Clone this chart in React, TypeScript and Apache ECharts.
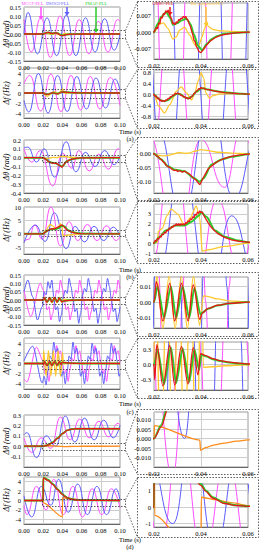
import React, { useEffect, useRef } from "react";
import * as echarts from "echarts";

type Pt = [number, number];

// ---------- legend / tick labels ----------
const legendNames = ["MCCF-PLL", "DSOGI-PLL", "PMAF-PLL", "GDSC-PLL", "The proposed PLL"];
const panelTags = ["(a)", "(b)", "(c)", "(d)"];
const xTicksLeft = [0, 0.02, 0.04, 0.06, 0.08, 0.1];
const xTicksRight = [0.02, 0.04, 0.06];

// ---------- panel (a) ----------
const aThMccf: Pt[] = [[0, 0.08], [0.0075, -0.1], [0.0175, 0.09], [0.0275, -0.13], [0.0375, 0.1], [0.0475, -0.12], [0.0575, 0.08], [0.0675, -0.11], [0.0775, 0.07], [0.0875, -0.1], [0.0975, 0.08], [0.1, 0.07]];
const aThDsogi: Pt[] = [[0, 0.0], [0.004, 0.12], [0.014, -0.11], [0.024, 0.09], [0.034, -0.12], [0.044, 0.105], [0.054, -0.12], [0.064, 0.09], [0.074, -0.1], [0.084, 0.085], [0.094, -0.09], [0.1, 0.0]];
const aThPmaf: Pt[] = [[0, 0], [0.02, 0], [0.0215, 0.0035], [0.0231, 0.0066], [0.0252, 0.0086], [0.0268, 0.0062], [0.0281, 0.0032], [0.0298, 0.0038], [0.0316, 0.005], [0.0338, 0.0058], [0.0355, 0.0035], [0.037, -0.001], [0.0387, -0.0058], [0.0405, -0.0078], [0.0425, -0.005], [0.0444, -0.003], [0.047, -0.0016], [0.05, -0.0007], [0.055, -0.0002], [0.06, 0], [0.1, 0]];
const aThGdsc: Pt[] = [[0, 0], [0.02, 0], [0.021, 0.002], [0.0215, 0.0015], [0.022, 0.004], [0.0225, 0.0035], [0.023, 0.0065], [0.0235, 0.006], [0.024, 0.008], [0.0245, 0.0075], [0.025, 0.0092], [0.0255, 0.0085], [0.026, 0.0095], [0.0265, 0.008], [0.027, 0.0065], [0.0275, 0.0058], [0.028, 0.0035], [0.0285, 0.004], [0.029, 0.0032], [0.0295, 0.0045], [0.03, 0.004], [0.0305, 0.0055], [0.031, 0.005], [0.0315, 0.006], [0.032, 0.0058], [0.0325, 0.0068], [0.033, 0.0062], [0.0335, 0.0068], [0.034, 0.0055], [0.0345, 0.005], [0.035, 0.0035], [0.0355, 0.0025], [0.036, 0.0005], [0.0365, -0.001], [0.037, -0.0035], [0.0375, -0.004], [0.038, -0.0062], [0.0385, -0.0068], [0.039, -0.0082], [0.0395, -0.0085], [0.04, -0.0088], [0.041, -0.0075], [0.042, -0.006], [0.044, -0.0038], [0.046, -0.0024], [0.048, -0.0015], [0.05, -0.001], [0.053, -0.0005], [0.056, -0.0002], [0.06, 0], [0.1, 0]];
const aThProp: Pt[] = [[0, 0], [0.02, 0], [0.0225, 0.0035], [0.024, 0.004], [0.026, 0.0015], [0.028, -0.003], [0.0295, -0.002], [0.031, 0.001], [0.033, 0.0022], [0.035, -0.001], [0.0375, -0.0055], [0.039, -0.0058], [0.0405, -0.002], [0.0415, 0.0015], [0.0425, 0.0045], [0.043, 0.0025], [0.045, 0.0012], [0.048, 0.0006], [0.053, 0.0003], [0.06, 0], [0.1, 0]];

const aFMccf: Pt[] = [[0, 1.8], [0.006, 3.5], [0.0175, -3.6], [0.028, 3.8], [0.0385, -3.7], [0.049, 3.5], [0.059, -3.4], [0.069, 3.3], [0.079, -3.2], [0.09, 3.1], [0.1, -2.5]];
const aFDsogi: Pt[] = [[0, -1.5], [0.005, -3.8], [0.015, 3.9], [0.025, -4.0], [0.035, 3.5], [0.045, -3.7], [0.055, 3.3], [0.065, -3.2], [0.075, 3.0], [0.085, -3.0], [0.095, 2.8], [0.1, 0.5]];
const aFPmaf: Pt[] = [[0, 0], [0.02, 0], [0.0215, -0.12], [0.023, -0.22], [0.0245, -0.25], [0.026, -0.2], [0.028, -0.06], [0.03, 0.04], [0.0315, 0.0], [0.033, -0.1], [0.0345, -0.15], [0.036, -0.08], [0.038, 0.1], [0.04, 0.22], [0.0415, 0.22], [0.043, 0.18], [0.046, 0.13], [0.05, 0.08], [0.055, 0.04], [0.06, 0.02], [0.1, 0]];
const aFGdsc: Pt[] = [[0, 0], [0.02, 0], [0.0205, -0.08], [0.021, -0.05], [0.0215, -0.16], [0.022, -0.13], [0.0225, -0.24], [0.023, -0.2], [0.0235, -0.26], [0.024, -0.22], [0.0245, -0.26], [0.025, -0.2], [0.0255, -0.22], [0.026, -0.14], [0.0265, -0.15], [0.027, -0.08], [0.0275, -0.09], [0.028, -0.02], [0.0285, -0.03], [0.029, 0.04], [0.0295, 0.02], [0.03, 0.06], [0.0305, 0.02], [0.031, 0.02], [0.0315, -0.04], [0.032, -0.03], [0.0325, -0.09], [0.033, -0.08], [0.0335, -0.13], [0.034, -0.11], [0.0345, -0.16], [0.035, -0.13], [0.0355, -0.14], [0.036, -0.06], [0.0365, -0.05], [0.037, 0.04], [0.0375, 0.05], [0.038, 0.13], [0.0385, 0.14], [0.039, 0.22], [0.0395, 0.2], [0.04, 0.26], [0.0405, 0.22], [0.041, 0.24], [0.042, 0.19], [0.043, 0.18], [0.045, 0.14], [0.047, 0.11], [0.05, 0.07], [0.053, 0.05], [0.056, 0.03], [0.06, 0.015], [0.1, 0]];
const aFProp: Pt[] = [[0, 0], [0.02, 0], [0.022, -0.43], [0.0245, -0.68], [0.0267, -0.37], [0.0295, 0.12], [0.0316, 0.28], [0.0338, 0.06], [0.036, -0.2], [0.0375, 0.1], [0.0388, 0.5], [0.04, 0.8], [0.0412, 0.6], [0.042, 0.06], [0.0437, -0.14], [0.045, -0.04], [0.048, 0.02], [0.053, 0.03], [0.06, 0.02], [0.1, 0]];

// ---------- panel (b) ----------
const bThMccf: Pt[] = [[0, 0.1], [0.008, -0.05], [0.017, 0.08], [0.03, -0.32], [0.04, 0.05], [0.05, -0.12], [0.057, 0.08], [0.068, -0.15], [0.078, 0.04], [0.088, -0.13], [0.098, 0.1], [0.1, 0.09]];
const bThDsogi: Pt[] = [[0, 0.11], [0.004, 0.12], [0.013, -0.05], [0.021, 0.1], [0.032, -0.22], [0.044, 0.18], [0.054, -0.16], [0.064, 0.06], [0.074, -0.1], [0.084, 0.08], [0.094, -0.08], [0.1, 0.02]];
const bThPmaf: Pt[] = [[0, 0], [0.02, 0], [0.023, -0.02], [0.026, -0.045], [0.029, -0.057], [0.033, -0.063], [0.037, -0.087], [0.0395, -0.1], [0.041, -0.088], [0.0445, -0.039], [0.049, -0.02], [0.053, -0.011], [0.06, -0.002], [0.1, 0]];
const bThGdsc: Pt[] = [[0, 0], [0.02, 0], [0.021, -0.008], [0.022, -0.012], [0.0225, -0.018], [0.023, -0.02], [0.024, -0.03], [0.0245, -0.032], [0.025, -0.04], [0.026, -0.047], [0.027, -0.05], [0.028, -0.058], [0.029, -0.06], [0.0295, -0.058], [0.03, -0.064], [0.031, -0.06], [0.032, -0.066], [0.033, -0.062], [0.034, -0.068], [0.035, -0.072], [0.036, -0.08], [0.037, -0.088], [0.038, -0.095], [0.0385, -0.1], [0.039, -0.106], [0.0395, -0.11], [0.04, -0.103], [0.041, -0.085], [0.042, -0.07], [0.043, -0.055], [0.045, -0.04], [0.047, -0.028], [0.05, -0.017], [0.053, -0.01], [0.056, -0.005], [0.06, -0.002], [0.1, 0]];
const bThProp: Pt[] = [[0, 0], [0.02, 0], [0.022, -0.006], [0.024, -0.008], [0.026, -0.006], [0.028, -0.002], [0.0305, 0.004], [0.033, 0.001], [0.035, 0.002], [0.037, 0.008], [0.04, 0.014], [0.043, 0.011], [0.047, 0.005], [0.053, 0.002], [0.06, 0], [0.1, 0]];

const bFMccf: Pt[] = [[0, -2.8], [0.005, -2.0], [0.011, 3.3], [0.019, -2.0], [0.028, 10], [0.038, -4.5], [0.047, 4.5], [0.056, -2.5], [0.066, 3.5], [0.076, -2.5], [0.086, 3], [0.096, -2.5], [0.1, -1]];
const bFDsogi: Pt[] = [[0, -3.3], [0.012, 3.3], [0.022, -2.8], [0.0316, 7.8], [0.044, -5.5], [0.053, 2.8], [0.063, -3], [0.073, 2.8], [0.083, -2.5], [0.093, 2.5], [0.1, -1]];
const bFPmaf: Pt[] = [[0, 0], [0.02, 0], [0.0224, 0.67], [0.025, 1.3], [0.029, 1.8], [0.033, 1.8], [0.036, 2.2], [0.039, 2.8], [0.0402, 3.15], [0.0423, 2.7], [0.046, 1.3], [0.05, 0.67], [0.056, 0.27], [0.06, 0.1], [0.1, 0]];
const bFGdsc: Pt[] = [[0, 0], [0.02, 0], [0.0205, 0.3], [0.021, 0.2], [0.0215, 0.5], [0.022, 0.4], [0.0225, 0.7], [0.023, 0.6], [0.0235, 0.95], [0.024, 0.85], [0.0245, 1.15], [0.025, 1.05], [0.0255, 1.35], [0.026, 1.25], [0.0265, 1.55], [0.027, 1.45], [0.0275, 1.7], [0.028, 1.6], [0.0285, 1.85], [0.029, 1.75], [0.0295, 2.0], [0.03, 1.8], [0.0305, 2.0], [0.031, 1.8], [0.0315, 2.0], [0.032, 1.85], [0.0325, 2.0], [0.033, 1.85], [0.0335, 2.1], [0.034, 2.0], [0.0345, 2.3], [0.035, 2.2], [0.0355, 2.5], [0.036, 2.4], [0.0365, 2.7], [0.037, 2.6], [0.0375, 2.95], [0.038, 2.85], [0.0385, 3.2], [0.039, 3.05], [0.0395, 3.3], [0.04, 3.1], [0.0405, 3.2], [0.041, 2.9], [0.042, 2.5], [0.043, 2.1], [0.044, 1.75], [0.045, 1.45], [0.047, 1.0], [0.05, 0.6], [0.053, 0.35], [0.056, 0.2], [0.06, 0.1], [0.1, 0]];
const bFProp: Pt[] = [[0, 0], [0.02, 0], [0.0215, 0.1], [0.0218, 1.2], [0.0235, 1.5], [0.0255, 2.8], [0.0273, 3.5], [0.03, 3.0], [0.033, 1.8], [0.0355, 2.6], [0.038, 3.8], [0.0395, 2.5], [0.0405, -0.8], [0.043, -0.67], [0.05, -0.33], [0.06, 0], [0.1, 0]];

// ---------- panel (c) ----------
const cThMccf: Pt[] = [[0, 0.06], [0.007, -0.1], [0.017, 0.1], [0.02, 0.06], [0.022, 0.02], [0.024, -0.06], [0.026, -0.04], [0.028, -0.12], [0.03, -0.08], [0.032, 0.0], [0.034, 0.06], [0.036, 0.04], [0.038, 0.12], [0.04, 0.07], [0.042, 0.0], [0.044, -0.06], [0.046, -0.04], [0.048, -0.12], [0.05, -0.07], [0.052, 0.01], [0.054, 0.06], [0.056, 0.04], [0.058, 0.12], [0.06, 0.07], [0.062, 0.0], [0.064, -0.06], [0.066, -0.04], [0.068, -0.12], [0.07, -0.07], [0.072, 0.01], [0.074, 0.06], [0.076, 0.04], [0.078, 0.12], [0.08, 0.07], [0.082, 0.0], [0.084, -0.06], [0.086, -0.04], [0.088, -0.12], [0.09, -0.07], [0.092, 0.01], [0.094, 0.06], [0.096, 0.04], [0.098, 0.12], [0.1, 0.07]];
const cThDsogi: Pt[] = [[0, 0.05], [0.004, 0.12], [0.009, 0.02], [0.014, -0.12], [0.019, -0.04], [0.021, 0.05], [0.023, 0.03], [0.025, 0.11], [0.027, 0.07], [0.029, 0.12], [0.031, 0.02], [0.033, -0.06], [0.035, -0.04], [0.037, -0.13], [0.039, -0.09], [0.041, 0.02], [0.043, 0.06], [0.045, 0.04], [0.047, 0.13], [0.049, 0.08], [0.051, 0.01], [0.053, -0.07], [0.055, -0.05], [0.057, -0.14], [0.059, -0.08], [0.061, 0.03], [0.063, 0.07], [0.065, 0.05], [0.067, 0.13], [0.069, 0.08], [0.071, 0.0], [0.073, -0.07], [0.075, -0.05], [0.077, -0.14], [0.079, -0.08], [0.081, 0.03], [0.083, 0.07], [0.085, 0.05], [0.087, 0.13], [0.089, 0.08], [0.091, 0.0], [0.093, -0.07], [0.095, -0.05], [0.097, -0.13], [0.099, -0.08], [0.1, -0.04]];
const cThPmaf: Pt[] = [[0, 0], [0.02, 0], [0.0215, 0.01], [0.0243, -0.01], [0.0272, 0.01], [0.0294, -0.01], [0.0322, 0.01], [0.035, -0.01], [0.0372, 0.009], [0.0398, -0.008], [0.0405, -0.0068], [0.043, -0.0042], [0.047, -0.0022], [0.052, -0.0009], [0.06, 0], [0.1, 0]];
const cThGdsc: Pt[] = [[0, 0], [0.02, 0], [0.021, 0.013], [0.0238, -0.012], [0.0267, 0.012], [0.0288, -0.012], [0.0317, 0.012], [0.0345, -0.012], [0.0367, 0.011], [0.0395, -0.011], [0.0405, -0.007], [0.043, -0.004], [0.047, -0.002], [0.052, -0.0008], [0.06, 0], [0.1, 0]];
const cThProp: Pt[] = [[0, 0], [0.02, 0], [0.0212, 0.017], [0.0238, -0.017], [0.0264, 0.017], [0.029, -0.017], [0.0316, 0.017], [0.0342, -0.017], [0.0368, 0.017], [0.0394, -0.015], [0.041, 0.004], [0.043, 0.0035], [0.047, 0.002], [0.052, 0.0008], [0.06, 0], [0.1, 0]];

const cFMccf: Pt[] = [[0, -3], [0.003, -3.6], [0.013, 3.2], [0.02, 0.5], [0.022, -2.0], [0.024, -1.2], [0.026, -3.5], [0.028, -1.0], [0.03, 1.0], [0.032, 0.5], [0.034, 3.5], [0.036, 1.8], [0.038, 2.5], [0.04, 0.2], [0.042, -2.0], [0.044, -1.2], [0.046, -3.5], [0.048, -1.0], [0.05, 1.0], [0.052, 0.5], [0.054, 3.5], [0.056, 1.8], [0.058, 2.5], [0.06, 0.2], [0.062, -2.0], [0.064, -1.2], [0.066, -3.5], [0.068, -1.0], [0.07, 1.0], [0.072, 0.5], [0.074, 3.5], [0.076, 1.8], [0.078, 2.5], [0.08, 0.2], [0.082, -2.0], [0.084, -1.2], [0.086, -3.5], [0.088, -1.0], [0.09, 1.0], [0.092, 0.5], [0.094, 3.5], [0.096, 1.8], [0.098, 2.5], [0.1, 0.2]];
const cFDsogi: Pt[] = [[0, 0.5], [0.009, 3.4], [0.019, -3.8], [0.021, -2.5], [0.023, -4.2], [0.025, -1.5], [0.027, 1.5], [0.029, 0.8], [0.031, 4.2], [0.033, 2.2], [0.035, 3.0], [0.037, 0.5], [0.039, -2.5], [0.041, -1.5], [0.043, -4.0], [0.045, -1.5], [0.047, 1.5], [0.049, 0.8], [0.051, 4.2], [0.053, 2.0], [0.055, 3.0], [0.057, 0.5], [0.059, -2.5], [0.061, -1.5], [0.063, -4.0], [0.065, -1.5], [0.067, 1.5], [0.069, 0.8], [0.071, 4.0], [0.073, 2.0], [0.075, 3.0], [0.077, 0.5], [0.079, -2.5], [0.081, -1.5], [0.083, -4.0], [0.085, -1.5], [0.087, 1.5], [0.089, 0.8], [0.091, 4.0], [0.093, 2.0], [0.095, 3.0], [0.097, 0.5], [0.099, -2.5], [0.1, -2]];
const cFPmaf: Pt[] = [[0, 0], [0.02, 0], [0.0215, 0.3], [0.0243, -0.38], [0.0272, 0.34], [0.0294, -0.36], [0.0322, 0.32], [0.035, -0.34], [0.0372, 0.3], [0.0392, -0.1], [0.0402, 0.2], [0.042, 0.17], [0.045, 0.11], [0.048, 0.075], [0.052, 0.045], [0.056, 0.025], [0.06, 0.012], [0.1, 0]];
const cFGdsc: Pt[] = [[0, 0], [0.02, 0], [0.0203, -0.3], [0.0212, 0.4], [0.0238, -0.42], [0.0267, 0.38], [0.0288, -0.4], [0.0317, 0.36], [0.0345, -0.38], [0.0367, 0.34], [0.0387, -0.2], [0.0398, 0.22], [0.042, 0.18], [0.045, 0.12], [0.048, 0.08], [0.052, 0.05], [0.056, 0.03], [0.06, 0.015], [0.1, 0]];
const cFProp: Pt[] = [[0, 0], [0.02, 0], [0.0205, 2.5], [0.023, -2.5], [0.0255, 2.5], [0.028, -2.5], [0.0305, 2.5], [0.033, -2.5], [0.0355, 2.5], [0.038, -2.5], [0.0402, 2.2], [0.041, -0.05], [0.045, -0.04], [0.05, -0.02], [0.06, 0], [0.1, 0]];

// ---------- panel (d) ----------
const dThMccf: Pt[] = [[0, 0.08], [0.008, -0.06], [0.018, 0.08], [0.028, -0.02], [0.038, 0.28], [0.048, 0.06], [0.058, 0.26], [0.068, 0.08], [0.078, 0.24], [0.088, 0.09], [0.098, 0.22], [0.1, 0.2]];
const dThDsogi: Pt[] = [[0, 0.11], [0.003, 0.13], [0.013, -0.11], [0.023, 0.1], [0.033, 0.0], [0.043, 0.29], [0.053, 0.04], [0.063, 0.27], [0.073, 0.06], [0.083, 0.25], [0.093, 0.08], [0.1, 0.2]];
const dThPmaf: Pt[] = [[0, 0], [0.02, 0], [0.023, 0.007], [0.026, 0.018], [0.03, 0.038], [0.035, 0.078], [0.04, 0.122], [0.045, 0.153], [0.05, 0.165], [0.055, 0.168], [0.1, 0.168]];
const dThGdsc: Pt[] = [[0, 0], [0.02, 0], [0.023, 0.006], [0.026, 0.016], [0.03, 0.035], [0.035, 0.075], [0.04, 0.12], [0.045, 0.152], [0.05, 0.165], [0.055, 0.168], [0.1, 0.168]];
const dThProp: Pt[] = [[0, 0], [0.02, 0], [0.0202, 0.0068], [0.0395, -0.0008], [0.0398, -0.0062], [0.042, -0.0048], [0.045, -0.0036], [0.05, -0.0024], [0.055, -0.0014], [0.06, -0.0007], [0.1, 0]];

const dFMccf: Pt[] = [[0, -1], [0.003, -3], [0.013, 3], [0.023, -2], [0.031, 4.5], [0.041, -3], [0.051, 3], [0.061, -3.5], [0.071, 2.5], [0.081, -3], [0.091, 2.5], [0.1, -1.5]];
const dFDsogi: Pt[] = [[0, 1], [0.008, -3.5], [0.018, 3], [0.028, -1], [0.036, 4.5], [0.046, -2.5], [0.056, 3.5], [0.066, -3], [0.076, 3], [0.086, -3], [0.096, 2.5], [0.1, 0]];
const dFPmaf: Pt[] = [[0, 0], [0.02, 0], [0.0201, 4.9], [0.025, 4.4], [0.03, 3.5], [0.035, 2.4], [0.04, 1.4], [0.042, 1.0], [0.045, 0.6], [0.05, 0.25], [0.055, 0.11], [0.06, 0.05], [0.1, 0]];
const dFGdsc: Pt[] = [[0, 0], [0.02, 0], [0.0201, 4.8], [0.025, 4.3], [0.03, 3.4], [0.035, 2.3], [0.04, 1.3], [0.042, 0.95], [0.045, 0.55], [0.05, 0.22], [0.055, 0.1], [0.06, 0.05], [0.1, 0]];
const dFProp: Pt[] = [[0, 0], [0.02, 0], [0.0201, 4.6], [0.0203, -0.5], [0.04, -3.5], [0.0401, 0.6], [0.046, 0.45], [0.053, 0.27], [0.06, 0.09], [0.1, 0.02]];

// ---------- styling ----------
const FONT = "Liberation Serif";
const COL = { mccf: "#ff4dff", dsogi: "#5b5bff", pmaf: "#2bcc2b", gdsc: "#e81818", prop: "#ffc92e", propD: "#ff8c1a" };

interface Plot {
  box: [number, number, number, number];
  left: boolean;
  yr: [number, number];
  yt: number[];
  yd: number;
  data: Pt[][]; // mccf, dsogi, prop, pmaf, gdsc
  propColor: string;
  smooth: number;
  redSmooth: number;
}

const L = 24, LW = 96, R = 154, RW = 94;

const plots: Plot[] = [
  // (a)
  { box: [L, 7, LW, 54], left: true, yr: [-0.15, 0.15], yt: [-0.15, -0.1, -0.05, 0, 0.05, 0.1, 0.15], yd: 2, data: [aThMccf, aThDsogi, aThProp, aThPmaf, aThGdsc], propColor: COL.prop, smooth: 0.5, redSmooth: 0 },
  { box: [R, 3, RW, 56], left: false, yr: [-0.0115, 0.0125], yt: [-0.007, 0, 0.007], yd: 3, data: [aThMccf, aThDsogi, aThProp, aThPmaf, aThGdsc], propColor: COL.prop, smooth: 0.5, redSmooth: 0 },
  { box: [L, 68, LW, 50], left: true, yr: [-5, 5], yt: [-4, -2, 0, 2, 4], yd: 0, data: [aFMccf, aFDsogi, aFProp, aFPmaf, aFGdsc], propColor: COL.prop, smooth: 0.5, redSmooth: 0 },
  { box: [R, 70, RW, 49], left: false, yr: [-0.9, 0.9], yt: [-0.8, -0.4, 0, 0.4, 0.8], yd: 1, data: [aFMccf, aFDsogi, aFProp, aFPmaf, aFGdsc], propColor: COL.prop, smooth: 0.5, redSmooth: 0 },
  // (b)
  { box: [L, 140, LW, 53], left: true, yr: [-0.4, 0.2], yt: [-0.4, -0.3, -0.2, -0.1, 0, 0.1, 0.2], yd: 1, data: [bThMccf, bThDsogi, bThProp, bThPmaf, bThGdsc], propColor: COL.prop, smooth: 0.5, redSmooth: 0 },
  { box: [R, 141, RW, 52], left: false, yr: [-0.14, 0.045], yt: [-0.1, -0.05, 0], yd: 2, data: [bThMccf, bThDsogi, bThProp, bThPmaf, bThGdsc], propColor: COL.prop, smooth: 0.5, redSmooth: 0 },
  { box: [L, 207, LW, 47], left: true, yr: [-7.5, 10], yt: [-5, 0, 5, 10], yd: 0, data: [bFMccf, bFDsogi, bFProp, bFPmaf, bFGdsc], propColor: COL.prop, smooth: 0.5, redSmooth: 0 },
  { box: [R, 204, RW, 49], left: false, yr: [-1, 4], yt: [-1, 0, 1, 2, 3], yd: 0, data: [bFMccf, bFDsogi, bFProp, bFPmaf, bFGdsc], propColor: COL.prop, smooth: 0.5, redSmooth: 0 },
  // (c)
  { box: [L, 275, LW, 50], left: true, yr: [-0.15, 0.15], yt: [-0.15, -0.1, -0.05, 0, 0.05, 0.1, 0.15], yd: 2, data: [cThMccf, cThDsogi, cThProp, cThPmaf, cThGdsc], propColor: COL.prop, smooth: 0.3, redSmooth: 0.35 },
  { box: [R, 277, RW, 51], left: false, yr: [-0.0165, 0.016], yt: [-0.01, 0, 0.01], yd: 2, data: [cThMccf, cThDsogi, cThProp, cThPmaf, cThGdsc], propColor: COL.prop, smooth: 0.3, redSmooth: 0.35 },
  { box: [L, 338, LW, 51], left: true, yr: [-5, 5], yt: [-4, -2, 0, 2, 4], yd: 0, data: [cFMccf, cFDsogi, cFProp, cFPmaf, cFGdsc], propColor: COL.prop, smooth: 0.3, redSmooth: 0.35 },
  { box: [R, 342, RW, 48], left: false, yr: [-0.5, 0.45], yt: [-0.3, 0, 0.3], yd: 1, data: [cFMccf, cFDsogi, cFProp, cFPmaf, cFGdsc], propColor: COL.prop, smooth: 0.3, redSmooth: 0.35 },
  // (d)
  { box: [L, 415, LW, 52], left: true, yr: [-0.2, 0.3], yt: [-0.1, 0, 0.1, 0.2, 0.3], yd: 1, data: [dThMccf, dThDsogi, dThProp, dThPmaf, dThGdsc], propColor: COL.propD, smooth: 0.5, redSmooth: 0.3 },
  { box: [R, 412, RW, 55], left: false, yr: [-0.015, 0.014], yt: [-0.01, -0.005, 0, 0.005, 0.01], yd: 3, data: [dThMccf, dThDsogi, dThProp, dThPmaf, dThGdsc], propColor: COL.propD, smooth: 0.5, redSmooth: 0.3 },
  { box: [L, 477, LW, 47], left: true, yr: [-5, 5], yt: [-4, -2, 0, 2, 4], yd: 0, data: [dFMccf, dFDsogi, dFProp, dFPmaf, dFGdsc], propColor: COL.propD, smooth: 0.5, redSmooth: 0.3 },
  { box: [R, 484, RW, 43], left: false, yr: [-1.2, 1.4], yt: [-1, 0, 1], yd: 0, data: [dFMccf, dFDsogi, dFProp, dFPmaf, dFGdsc], propColor: COL.propD, smooth: 0.5, redSmooth: 0.3 },
];

const frames: [number, number][] = [[1, 67], [69, 128], [137, 200], [201, 263], [272, 336], [338, 398], [409, 474], [477, 537]];
const zoomRects: [number, number][] = [[30, 38], [89, 98], [155, 162], [230, 236], [297, 304], [360, 369], [443, 450], [499, 506]];
const yNames: [string, number][] = [["Δθ (rad)", 34], ["Δf (Hz)", 93], ["Δθ (rad)", 167], ["Δf (Hz)", 230], ["Δθ (rad)", 300], ["Δf (Hz)", 363], ["Δθ (rad)", 441], ["Δf (Hz)", 500]];
const timeY = [131, 269, 403.5, 539];

function buildOption() {
  const grid: any[] = [];
  const xAxis: any[] = [];
  const yAxis: any[] = [];
  const series: any[] = [];
  plots.forEach((p, i) => {
    grid.push({ left: p.box[0], top: p.box[1], width: p.box[2], height: p.box[3], show: true, borderColor: "#9a9a9a", borderWidth: 1, backgroundColor: "transparent" });
    const xt = p.left ? xTicksLeft : xTicksRight;
    xAxis.push({
      type: "value", gridIndex: i, min: p.left ? 0 : 0.02, max: p.left ? 0.1 : 0.06,
      axisLine: { show: true, onZero: false, lineStyle: { color: "#666", width: 1 } },
      axisTick: { show: false, customValues: xt },
      axisLabel: { customValues: xt, fontSize: 6.5, fontFamily: FONT, color: "#000", margin: 3, formatter: (v: number) => v.toFixed(2), showMinLabel: true, showMaxLabel: true },
      splitLine: { show: true, lineStyle: { color: "#cdcdcd", width: 1 } },
    });
    yAxis.push({
      type: "value", gridIndex: i, min: p.yr[0], max: p.yr[1],
      axisLine: { show: false },
      axisTick: { show: false, customValues: p.yt },
      axisLabel: { customValues: p.yt, fontSize: 6.5, fontFamily: FONT, color: "#000", margin: 3, formatter: (v: number) => v.toFixed(p.yd), showMinLabel: true, showMaxLabel: true },
      splitLine: { show: true, lineStyle: { color: "#cdcdcd", width: 1 } },
    });
    const colors = [COL.mccf, COL.dsogi, p.propColor, COL.pmaf, COL.gdsc];
    const widths = [1, 1, 1.3, 2, 1.3];
    const smooths = [p.smooth, p.smooth, 0.25, 0.25, p.redSmooth];
    p.data.forEach((d, k) => {
      series.push({
        type: "line", xAxisIndex: i, yAxisIndex: i, data: d, showSymbol: false, symbol: "none",
        smooth: smooths[k], smoothMonotone: "x", clip: true, silent: true, z: 2 + k,
        lineStyle: { color: colors[k], width: widths[k] },
      });
    });
  });

  const graphic: any[] = [];
  const dash = { stroke: "#333", lineWidth: 0.8, lineDash: [1.5, 1.5], fill: "none" };
  frames.forEach((f, i) => {
    const r = zoomRects[i];
    graphic.push({ type: "rect", shape: { x: 137.5, y: f[0] + 0.5, width: 121, height: f[1] - f[0] }, style: { ...dash }, silent: true, z: 10 });
    graphic.push({ type: "rect", shape: { x: 42.5, y: r[0] + 0.5, width: 83, height: r[1] - r[0] }, style: { ...dash }, silent: true, z: 10 });
    graphic.push({ type: "line", shape: { x1: 125.5, y1: r[0] + 0.5, x2: 137.5, y2: f[0] + 0.5 }, style: { ...dash }, silent: true, z: 10 });
    graphic.push({ type: "line", shape: { x1: 125.5, y1: r[1] + 0.5, x2: 137.5, y2: f[1] + 0.5 }, style: { ...dash }, silent: true, z: 10 });
  });
  yNames.forEach(([t, y]) => {
    graphic.push({ type: "text", x: 6, y, rotation: Math.PI / 2, style: { text: t, font: `italic 8px "${FONT}"`, fill: "#000", align: "center", verticalAlign: "middle" }, silent: true });
  });
  timeY.forEach((y, i) => {
    graphic.push({ type: "text", x: 130, y, style: { text: "Time (s)", font: `6.5px "${FONT}"`, fill: "#000", align: "center", verticalAlign: "middle" }, silent: true });
    graphic.push({ type: "text", x: 130, y: y + 7.5, style: { text: panelTags[i], font: `6.5px "${FONT}"`, fill: "#000", align: "center", verticalAlign: "middle" }, silent: true });
  });
  const legend: [string, string, number, number, number][] = [
    [legendNames[0], COL.mccf, 32.5, 41, 20],
    [legendNames[1], COL.dsogi, 57.5, 67, 16],
    [legendNames[2], COL.pmaf, 96, 96, 33],
    [legendNames[3], COL.gdsc, 163, 170, 16],
    [legendNames[4], COL.prop, 207, 206, 27],
  ];
  legend.forEach(([t, c, tx, ax, ay]) => {
    graphic.push({ type: "text", x: tx, y: 3.5, style: { text: t, font: `4.5px "${FONT}"`, fill: c, align: "center", verticalAlign: "middle" }, silent: true, z: 20 });
    graphic.push({ type: "line", shape: { x1: ax, y1: 7, x2: ax, y2: ay - 2 }, style: { stroke: c, lineWidth: 1.5 }, silent: true, z: 20 });
    graphic.push({ type: "polygon", shape: { points: [[ax - 2.5, ay - 4], [ax + 2.5, ay - 4], [ax, ay]] }, style: { fill: c }, silent: true, z: 20 });
  });

  return { animation: false, backgroundColor: "#fff", grid, xAxis, yAxis, series, graphic };
}

export default function App() {
  const ref = useRef<HTMLDivElement>(null);
  useEffect(() => {
    if (!ref.current) return;
    const chart = echarts.init(ref.current, null, { renderer: "svg" });
    chart.setOption(buildOption() as any);
    return () => chart.dispose();
  }, []);
  return <div ref={ref} style={{ position: "absolute", left: 0, top: 0, width: 260, height: 550, background: "#fff" }} />;
}
